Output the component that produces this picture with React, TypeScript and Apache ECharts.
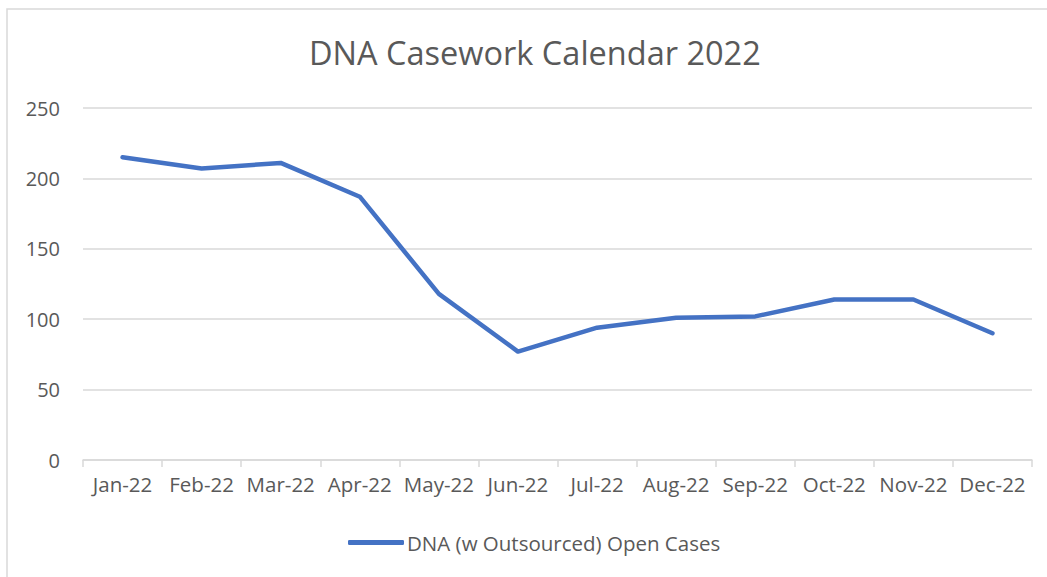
import React, { useEffect, useRef } from "react";
import * as echarts from "echarts";

const title = "DNA Casework Calendar 2022";
const seriesName = "DNA (w Outsourced) Open Cases";
const months = ["Jan-22", "Feb-22", "Mar-22", "Apr-22", "May-22", "Jun-22", "Jul-22", "Aug-22", "Sep-22", "Oct-22", "Nov-22", "Dec-22"];
const openCases = [215, 207, 211, 187, 118, 77, 94, 101, 102, 114, 114, 90];
const yMin = 0;
const yMax = 250;
const yStep = 50;

const FONT = "'Open Sans', sans-serif";
const TEXT = "#595959";
const GRID = "#d9d9d9";
const BLUE = "#4472C4";

export default function App() {
  const ref = useRef<HTMLDivElement>(null);
  useEffect(() => {
    if (!ref.current) return;
    const chart = echarts.init(ref.current, undefined, { renderer: "svg" });
    chart.setOption({
      animation: false,
      backgroundColor: "#ffffff",
      textStyle: { fontFamily: FONT },
      title: {
        text: title,
        left: 304,
        top: 31,
        textStyle: { fontFamily: FONT, fontSize: 32.5, fontWeight: "normal", color: TEXT },
      },
      graphic: [
        {
          type: "rect",
          shape: { x: 7, y: 9, width: 1100, height: 600 },
          style: { fill: "none", stroke: GRID, lineWidth: 1.5 },
          silent: true,
          z: -1,
        },
      ],
      grid: { left: 83, right: 15, top: 108, bottom: 117, containLabel: false },
      legend: {
        bottom: 19,
        left: 343,
        data: [{ name: seriesName, icon: "roundRect" }],
        itemWidth: 56,
        itemHeight: 5,
        textStyle: { fontFamily: FONT, fontSize: 20.5, color: TEXT, padding: [0, 0, 0, -2] },
      },
      xAxis: {
        type: "category",
        data: months,
        boundaryGap: true,
        axisLine: { show: true, lineStyle: { color: GRID, width: 1.5 } },
        axisTick: { show: true, length: 7, lineStyle: { color: GRID, width: 1.5 } },
        axisLabel: { color: TEXT, fontSize: 20.5, fontFamily: FONT, margin: 13, interval: 0 },
        splitLine: { show: false },
      },
      yAxis: {
        type: "value",
        min: yMin,
        max: yMax,
        interval: yStep,
        axisLine: { show: false },
        axisTick: { show: false },
        axisLabel: { color: TEXT, fontSize: 20, fontFamily: FONT, margin: 23 },
        splitLine: { show: true, lineStyle: { color: GRID, width: 1.5 } },
      },
      series: [
        {
          name: seriesName,
          type: "line",
          data: openCases,
          showSymbol: false,
          symbol: "none",
          lineStyle: { color: BLUE, width: 4.5, cap: "round", join: "round" },
          itemStyle: { color: BLUE },
        },
      ],
    });
    return () => chart.dispose();
  }, []);
  return (
    <div
      ref={ref}
      style={{ position: "fixed", left: 0, top: 0, width: 1047, height: 577, background: "#fff" }}
    />
  );
}
